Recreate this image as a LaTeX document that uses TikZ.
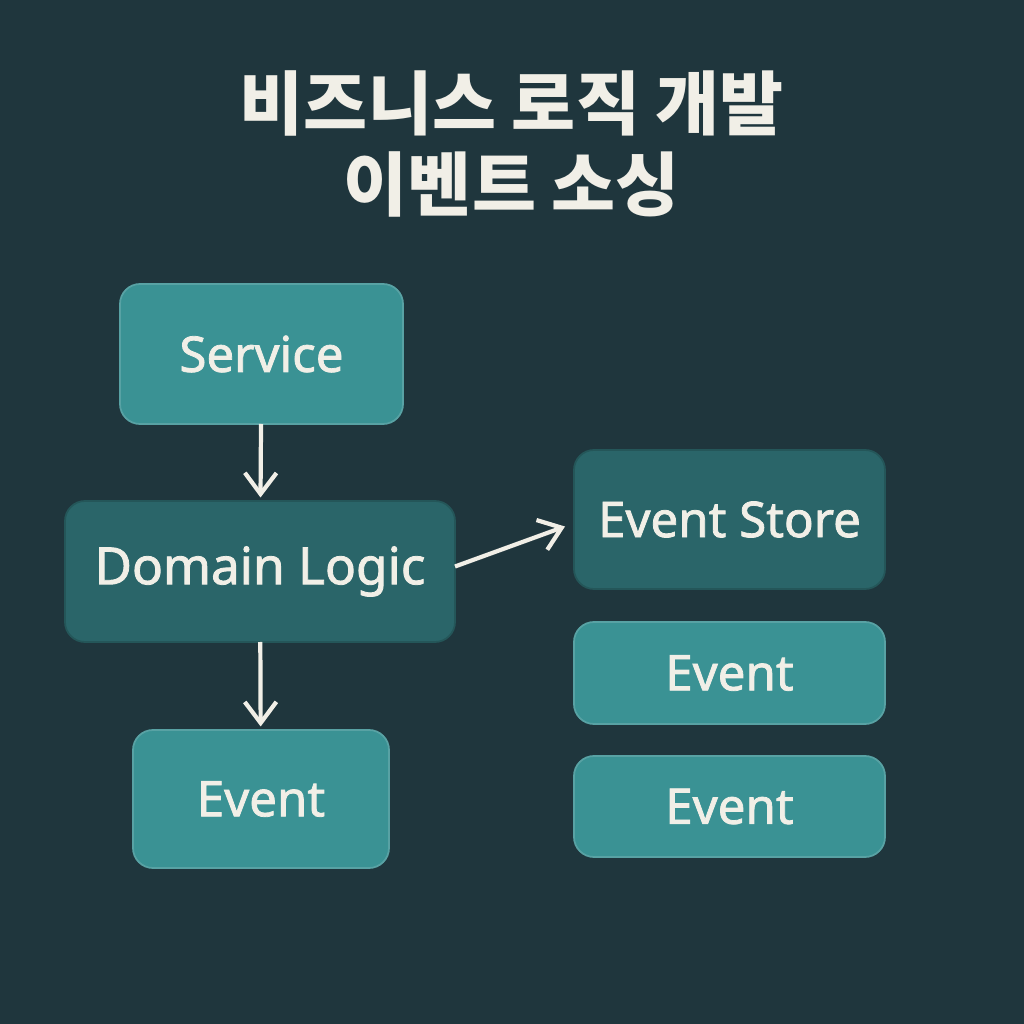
\documentclass[tikz,border=0pt]{standalone}
\usepackage{fontspec}
\setmainfont{Noto Sans}
\setsansfont{Noto Sans}
\newfontfamily\boxfont{Noto Sans}[FakeBold=1.6]
\newfontfamily\krfont{Noto Sans CJK KR}
\usetikzlibrary{arrows.meta,positioning}

\definecolor{bgcol}{HTML}{1F363D}
\definecolor{boxlight}{HTML}{3A9294}
\definecolor{boxdark}{HTML}{2A6569}
\definecolor{inkcol}{HTML}{F1EFE7}

\begin{document}
\begin{tikzpicture}[
  box/.style={rounded corners=0.2cm, inner sep=0pt, outer sep=0pt, align=center,
              text=inkcol, font=\boxfont\fontsize{14}{16}\selectfont},
  lightbox/.style={box, fill=boxlight, draw=boxlight!85!white, line width=0.5pt},
  darkbox/.style={box, fill=boxdark, draw=boxdark!85!black, line width=0.5pt},
  flow/.style={draw=inkcol, line width=1.2pt,
               -{Straight Barb[length=6pt, width=9pt, line width=1.2pt]}},
]

% background
\fill[bgcol] (0,0) rectangle (10.24,10.24);

% title
\node[text=inkcol, align=center, font=\krfont\bfseries\fontsize{19.8}{22.8}\selectfont]
  (title) at (5.12, 8.80) {비즈니스 로직 개발\\이벤트 소싱};

% left column
\node[lightbox, minimum width=2.83cm, minimum height=1.40cm]
  (service) at (2.615, 6.70) {Service};
\node[darkbox, minimum width=3.90cm, minimum height=1.41cm,
      font=\boxfont\fontsize{14.6}{17}\selectfont]
  (domain) at (2.60, 4.525) {Domain Logic};
\node[lightbox, minimum width=2.56cm, minimum height=1.38cm]
  (eventA) at (2.61, 2.25) {Event};

% right column
\node[darkbox, minimum width=3.11cm, minimum height=1.39cm]
  (store) at (7.295, 5.045) {Event Store};
\node[lightbox, minimum width=3.11cm, minimum height=1.02cm]
  (eventB) at (7.295, 3.51) {Event};
\node[lightbox, minimum width=3.11cm, minimum height=1.01cm]
  (eventC) at (7.295, 2.175) {Event};

% connectors
\draw[flow, shorten >=1pt] (service) -- (domain);
\draw[flow, shorten >=1pt] (domain) -- (eventA);
\draw[flow] ([yshift=0.05cm]domain.east) -- ([xshift=-0.09cm, yshift=-0.07cm]store.west);

\end{tikzpicture}
\end{document}
